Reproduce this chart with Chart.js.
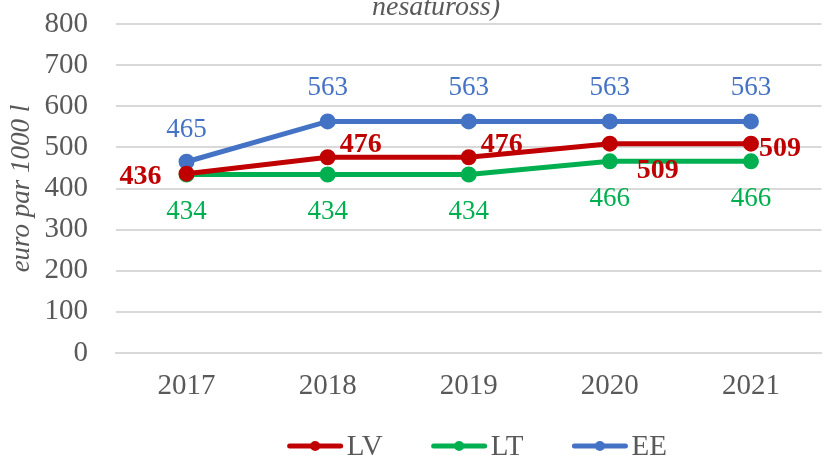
<!DOCTYPE html>
<html>
<head>
<meta charset="utf-8">
<script src="https://cdn.jsdelivr.net/npm/chart.js@4/dist/chart.umd.min.js"></script>
<style>
  html, body { margin: 0; padding: 0; background: #fff; }
  #wrap { width: 832px; height: 459px; }
</style>
</head>
<body>
<div id="wrap"><canvas id="chart" width="832" height="459"></canvas></div>
<script>
// Chart data
const years = ['2017', '2018', '2019', '2020', '2021'];
const lvValues = [436, 476, 476, 509, 509];
const ltValues = [434, 434, 434, 466, 466];
const eeValues = [465, 563, 563, 563, 563];
const yTicks = [0, 100, 200, 300, 400, 500, 600, 700, 800];

const FONT = '"Liberation Serif", "Times New Roman", serif';
const GREY = '#595959';

// label offsets from each point (dx, dy), per dataset
const labelOffsets = [
    [[-46, 3], [33, -12], [33, -12], [48, 27], [29, 5]],   // LV
    [[0, 37], [0, 37], [0, 37], [0, 38], [0, 38]],          // LT
    [[0, -32], [0, -34], [0, -34], [0, -34], [0, -34]]      // EE
];

// Draw value labels next to points
const valueLabels = {
    id: 'valueLabels',
    afterDatasetsDraw(chart) {
        const ctx = chart.ctx;
        chart.data.datasets.forEach((ds, i) => {
            const meta = chart.getDatasetMeta(i);
            ctx.save();
            ctx.fillStyle = ds.borderColor;
            ctx.font = ds.labelBold ? 'bold 28px ' + FONT : '27px ' + FONT;
            ctx.textAlign = 'center';
            ctx.textBaseline = 'middle';
            meta.data.forEach((pt, j) => {
                const off = labelOffsets[i][j];
                ctx.fillText(String(ds.data[j]), pt.x + off[0], pt.y + off[1]);
            });
            ctx.restore();
        });
    }
};

// Cut-off title at top and the line+dot legend at the bottom
const extras = {
    id: 'extras',
    afterDraw(chart) {
        const ctx = chart.ctx;
        ctx.save();
        ctx.fillStyle = GREY;
        ctx.font = 'italic 28px ' + FONT;
        ctx.textAlign = 'center';
        ctx.textBaseline = 'alphabetic';
        ctx.fillText('nesatuross)', 436, 15);

        // legend
        ctx.font = '29px ' + FONT;
        ctx.textBaseline = 'middle';
        ctx.textAlign = 'left';
        const lineLen = 57, gap = 3, spacing = 48, y = 446;
        const items = chart.data.datasets.map(ds => ({
            label: ds.label, color: ds.borderColor,
            w: lineLen + gap + ctx.measureText(ds.label).width
        }));
        const total = items.reduce((s, it) => s + it.w, 0) + spacing * (items.length - 1);
        let x = (chart.chartArea.left + chart.chartArea.right) / 2 - total / 2 + 8;
        items.forEach(it => {
            ctx.strokeStyle = it.color;
            ctx.lineWidth = 5;
            ctx.lineCap = 'round';
            ctx.beginPath();
            ctx.moveTo(x + 3, y);
            ctx.lineTo(x + lineLen - 3, y);
            ctx.stroke();
            ctx.fillStyle = it.color;
            ctx.beginPath();
            ctx.arc(x + lineLen / 2, y, 5, 0, Math.PI * 2);
            ctx.fill();
            ctx.fillStyle = GREY;
            ctx.fillText(it.label, x + lineLen + gap, y + 1);
            x += it.w + spacing;
        });
        ctx.restore();
    }
};

function makeSet(label, data, color, bold) {
    return {
        label: label,
        data: data,
        borderColor: color,
        backgroundColor: color,
        borderWidth: 5,
        pointRadius: 5.5,
        pointHoverRadius: 5.5,
        tension: 0,
        fill: false,
        labelBold: bold
    };
}

new Chart(document.getElementById('chart').getContext('2d'), {
    type: 'line',
    data: {
        labels: years,
        datasets: [
            makeSet('LV', lvValues, '#C00000', true),
            makeSet('LT', ltValues, '#00B050', false),
            makeSet('EE', eeValues, '#4472C4', false)
        ]
    },
    options: {
        responsive: false,
        animation: false,
        layout: { padding: { top: 24, right: 0, bottom: 0, left: 0 } },
        plugins: {
            legend: { display: false },
            tooltip: { enabled: false }
        },
        scales: {
            x: {
                offset: true,
                grid: { display: false, drawTicks: false },
                border: { display: true, color: '#d9d9d9', width: 2 },
                ticks: { color: GREY, font: { family: FONT, size: 29 }, padding: 16 },
                afterFit(scale) { scale.height = 106; }
            },
            y: {
                min: 0,
                max: 800,
                afterBuildTicks(scale) { scale.ticks = yTicks.map(v => ({ value: v })); },
                grid: { color: '#d9d9d9', lineWidth: 2, drawTicks: true, tickLength: 24, tickColor: 'rgba(0,0,0,0)' },
                border: { display: false },
                ticks: { color: GREY, font: { family: FONT, size: 29 }, padding: 4 },
                title: {
                    display: true,
                    text: 'euro par 1000 l',
                    color: GREY,
                    font: { family: FONT, size: 27, style: 'italic' },
                    padding: { top: 6, bottom: 0 }
                },
                afterFit(scale) { scale.width = 116; }
            }
        }
    },
    plugins: [valueLabels, extras]
});
</script>
</body>
</html>
